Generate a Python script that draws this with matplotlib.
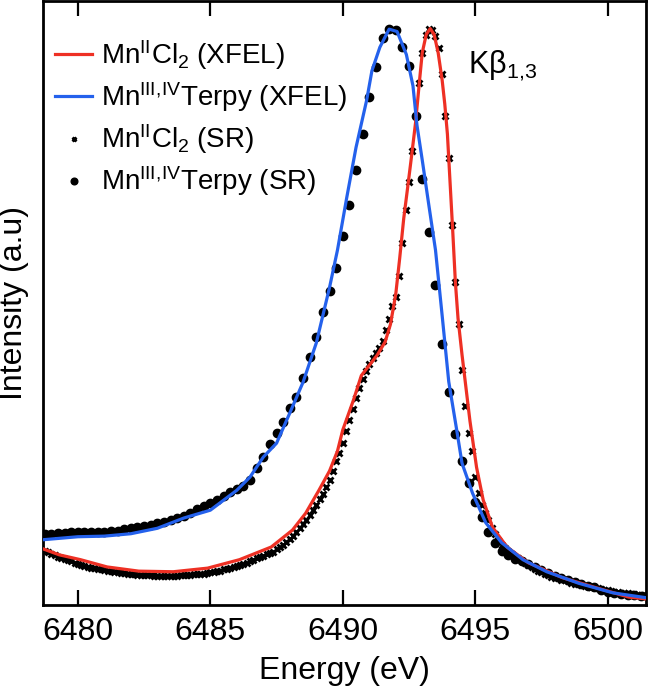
import numpy as np
import matplotlib.pyplot as plt

# Kbeta 1,3 emission spectra, intensity normalised to the axis (0 = bottom, 1 = top)

# XFEL spectra (continuous lines)
mncl2_xfel_energy = [6478.68, 6479.3, 6480.1, 6481.1, 6482.3, 6483.6, 6484.9, 6486.1, 6487.3, 6488.1,
                     6488.6, 6489.1, 6489.5, 6489.8, 6490.0, 6490.4, 6490.7, 6491.3, 6491.6, 6491.8,
                     6492.0, 6492.15, 6492.3, 6492.45, 6492.6, 6492.75, 6492.9, 6493.0, 6493.15, 6493.3,
                     6493.45, 6493.6, 6493.75, 6493.85, 6493.95, 6494.05, 6494.15, 6494.25, 6494.35, 6494.5,
                     6494.65, 6494.8, 6495.05, 6495.3, 6495.65, 6496.2, 6497.0, 6498.3, 6499.6, 6500.8,
                     6501.45]
mncl2_xfel_int = [0.093, 0.083, 0.075, 0.063, 0.056, 0.055, 0.061, 0.075, 0.096, 0.124,
                  0.152, 0.190, 0.222, 0.255, 0.290, 0.339, 0.380, 0.414, 0.436, 0.465,
                  0.515, 0.575, 0.640, 0.692, 0.745, 0.800, 0.870, 0.915, 0.945, 0.955,
                  0.945, 0.915, 0.870, 0.830, 0.780, 0.700, 0.620, 0.535, 0.475, 0.415,
                  0.360, 0.305, 0.228, 0.174, 0.129, 0.096, 0.070, 0.045, 0.028, 0.013,
                  0.010]

terpy_xfel_energy = [6478.68, 6480.0, 6481.0, 6482.0, 6483.0, 6484.0, 6485.0, 6486.0, 6486.5, 6487.0,
                     6487.5, 6488.0, 6488.5, 6489.0, 6489.5, 6489.8, 6490.15, 6490.5, 6490.9, 6491.1,
                     6491.4, 6491.75, 6492.05, 6492.4, 6492.65, 6492.8, 6493.0, 6493.25, 6493.5, 6493.75,
                     6494.0, 6494.3, 6494.5, 6494.9, 6495.4, 6496.0, 6496.8, 6497.7, 6498.9, 6500.2,
                     6501.45]
terpy_xfel_int = [0.108, 0.113, 0.114, 0.118, 0.127, 0.144, 0.157, 0.190, 0.212, 0.245,
                  0.268, 0.318, 0.369, 0.434, 0.526, 0.588, 0.675, 0.758, 0.836, 0.885,
                  0.924, 0.954, 0.950, 0.912, 0.860, 0.795, 0.737, 0.662, 0.588, 0.480,
                  0.370, 0.290, 0.235, 0.185, 0.136, 0.103, 0.075, 0.055, 0.036, 0.020,
                  0.012]

# SR spectra (points), MnCl2 sampled every 0.125 eV, Terpy every 0.25 eV from 6478.75
mncl2_sr_int = [
    0.090, 0.088, 0.085, 0.083, 0.080, 0.078, 0.076, 0.074, 0.072, 0.070,
    0.068, 0.066, 0.065, 0.063, 0.062, 0.061, 0.060, 0.059, 0.058, 0.057,
    0.056, 0.055, 0.054, 0.053, 0.053, 0.052, 0.051, 0.051, 0.050, 0.050,
    0.049, 0.049, 0.049, 0.048, 0.048, 0.048, 0.048, 0.048, 0.048, 0.048,
    0.048, 0.049, 0.049, 0.050, 0.050, 0.051, 0.051, 0.052, 0.052, 0.053,
    0.054, 0.055, 0.056, 0.057, 0.059, 0.060, 0.062, 0.063, 0.065, 0.066,
    0.068, 0.070, 0.072, 0.074, 0.077, 0.079, 0.081, 0.084, 0.086, 0.088,
    0.092, 0.096, 0.100, 0.104, 0.109, 0.114, 0.121, 0.127, 0.134, 0.141,
    0.149, 0.157, 0.166, 0.175, 0.184, 0.195, 0.207, 0.222, 0.238, 0.252,
    0.268, 0.289, 0.307, 0.325, 0.343, 0.360, 0.374, 0.387, 0.400, 0.409,
    0.417, 0.425, 0.437, 0.455, 0.474, 0.495,
    0.510, 0.545, 0.600, 0.655, 0.700, 0.752, 0.810, 0.865, 0.915, 0.945,
    0.955, 0.952, 0.943, 0.922, 0.880, 0.810, 0.740, 0.630, 0.535, 0.465,
    0.390, 0.330, 0.285, 0.255, 0.212, 0.185, 0.165, 0.152, 0.140, 0.127,
    0.117, 0.108, 0.100, 0.095, 0.090, 0.085, 0.080, 0.077, 0.073, 0.070,
    0.066, 0.063, 0.060, 0.057, 0.054, 0.051, 0.049, 0.047, 0.045, 0.044,
    0.042, 0.041, 0.039, 0.037, 0.035, 0.034, 0.033, 0.032, 0.031, 0.030,
    0.029, 0.028, 0.026, 0.025, 0.024, 0.023, 0.022, 0.021, 0.020, 0.020,
    0.019, 0.018, 0.018, 0.017, 0.017, 0.016, 0.016]
terpy_sr_int = [
    0.117,
    0.118, 0.119, 0.120, 0.121,
    0.121, 0.121, 0.121, 0.121,
    0.121, 0.122, 0.123, 0.125,
    0.127, 0.129, 0.131, 0.133,
    0.136, 0.138, 0.140, 0.144,
    0.148, 0.153, 0.159, 0.164,
    0.169, 0.174, 0.180, 0.187,
    0.192, 0.197, 0.207, 0.227,
    0.245, 0.266, 0.285, 0.303,
    0.327, 0.345, 0.376, 0.411,
    0.444, 0.485, 0.520, 0.558,
    0.612, 0.662, 0.720, 0.780,
    0.842, 0.892, 0.940, 0.955,
    0.953, 0.925, 0.893, 0.810,
    0.705, 0.618, 0.530, 0.432,
    0.352, 0.284, 0.238, 0.202,
    0.171, 0.145, 0.121, 0.102,
    0.089, 0.082, 0.076, 0.072,
    0.068, 0.063, 0.058, 0.053,
    0.048, 0.045, 0.042, 0.038,
    0.035, 0.032, 0.029, 0.025,
    0.022, 0.020, 0.018, 0.017,
    0.016, 0.015, 0.014]
sr_start = 6478.75
mncl2_sr_energy = sr_start + 0.125 * np.arange(len(mncl2_sr_int))
terpy_sr_energy = sr_start + 0.25 * np.arange(len(terpy_sr_int))

xticks = [6480, 6485, 6490, 6495, 6500]
labels = ["Mn$^{\\mathrm{II}}$Cl$_{\\mathrm{2}}$ (XFEL)",
          "Mn$^{\\mathrm{III,\\!IV}}$Terpy (XFEL)",
          "Mn$^{\\mathrm{II}}$Cl$_{\\mathrm{2}}$ (SR)",
          "Mn$^{\\mathrm{III,\\!IV}}$Terpy (SR)"]

red = "#ee3024"
blue = "#2461ec"

plt.rcParams['font.family'] = ['Liberation Sans', 'DejaVu Sans']
plt.rcParams['mathtext.fontset'] = 'custom'
plt.rcParams['mathtext.rm'] = 'Liberation Sans'
plt.rcParams['mathtext.it'] = 'Liberation Sans:italic'
plt.rcParams['mathtext.bf'] = 'Liberation Sans:bold'

fig = plt.figure(figsize=(6.5, 6.89), dpi=100)
ax = fig.add_axes([0.066, 0.122, 0.928, 0.876])

# SR points below, XFEL lines on top
sr1, = ax.plot(mncl2_sr_energy, mncl2_sr_int, ls="none", marker="x", ms=4.2, mew=2.0,
               color="black", zorder=2)
sr2, = ax.plot(terpy_sr_energy, terpy_sr_int, ls="none", marker="o", ms=6, color="black",
               zorder=2)
l1, = ax.plot(mncl2_xfel_energy, mncl2_xfel_int, color=red, lw=2.3, zorder=3)
l2, = ax.plot(terpy_xfel_energy, terpy_xfel_int, color=blue, lw=2.3, zorder=3)

ax.set_xlim(6478.68, 6501.45)
ax.set_ylim(0, 1)
ax.set_xticks(xticks)
ax.set_yticks([])
ax.tick_params(axis="x", direction="in", top=True, length=11, width=1.6, labelsize=23, pad=9)
for s in ax.spines.values():
    s.set_linewidth(2.0)

ax.set_xlabel("Energy (eV)", fontsize=23, labelpad=6)
ax.set_ylabel("Intensity (a.u)", fontsize=23, labelpad=10)

ax.text(0.705, 0.88, "K\u03b2$_{\\mathrm{1,\\!3}}$", transform=ax.transAxes, fontsize=22)

ax.legend([l1, l2, sr1, sr2], labels, loc="upper left", bbox_to_anchor=(0.02, 0.939),
          frameon=False, fontsize=20, handlelength=1.35, handletextpad=0.3,
          labelspacing=0.3, borderpad=0, borderaxespad=0, markerscale=0.8)

plt.savefig("out.png", dpi=100)
